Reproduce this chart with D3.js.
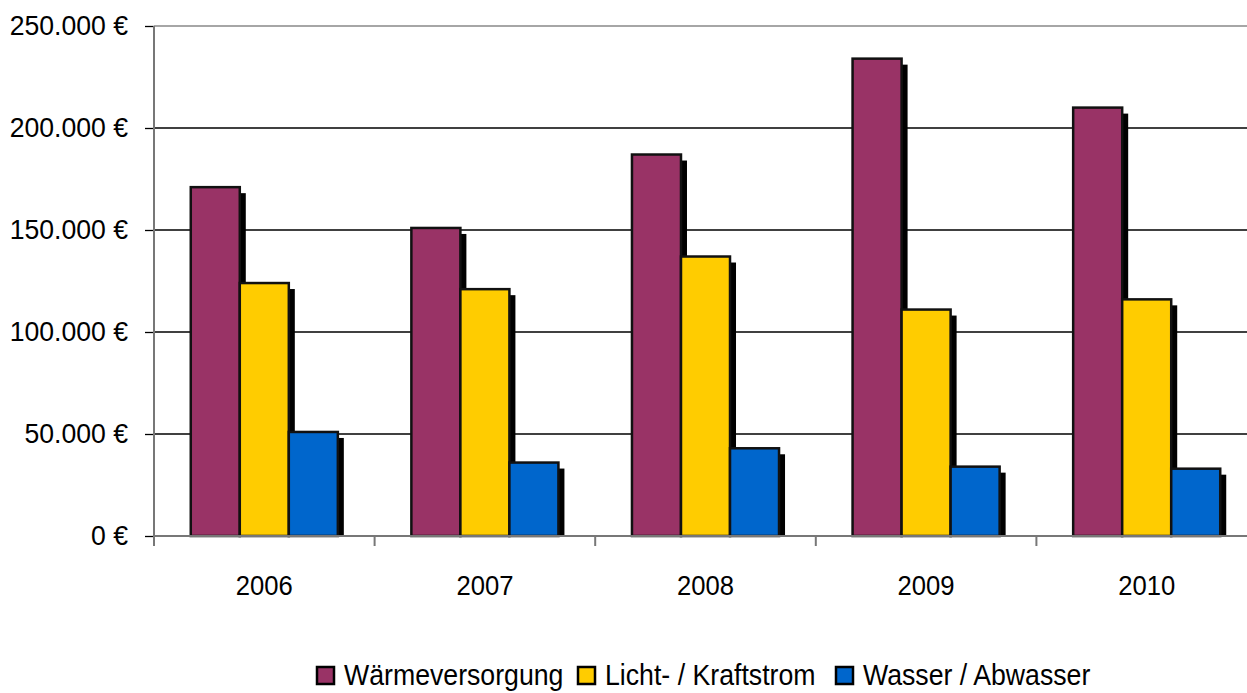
<!DOCTYPE html>
<html>
<head>
<meta charset="utf-8">
<script src="https://cdn.jsdelivr.net/npm/d3@7"></script>
<style>
  body { margin: 0; background: #fff; }
  text { font-family: "Liberation Sans", Arial, sans-serif; fill: #000; }
</style>
</head>
<body>
<div class="canvas"></div>
<script>
// data
const years = ['2006', '2007', '2008', '2009', '2010'];
const series = ['Wärmeversorgung', 'Licht- / Kraftstrom', 'Wasser / Abwasser'];
const waerme = [171000, 151000, 187000, 234000, 210000];
const strom = [124000, 121000, 137000, 111000, 116000];
const wasser = [51000, 36000, 43000, 34000, 33000];
const yTicks = [0, 50000, 100000, 150000, 200000, 250000];
const colors = ['#993366', '#ffcc00', '#0066cc'];

// dimensions
const width = 1247, height = 693;
const margin = {top: 26, right: -10, bottom: 157, left: 154};
const graphWidth = width - margin.left - margin.right;
const graphHeight = height - margin.top - margin.bottom;

// squeeze text a bit to mimic the narrow font of the original
const condense = (sel, k) => sel.each(function() {
  const w = this.getComputedTextLength();
  d3.select(this).attr('textLength', w * k).attr('lengthAdjust', 'spacingAndGlyphs');
});

const svg = d3.select('.canvas')
  .append('svg')
  .attr('width', width)
  .attr('height', height);

const graph = svg.append('g')
  .attr('transform', `translate(${margin.left},${margin.top})`);

const x0 = d3.scaleBand().domain(years).range([0, graphWidth]);
const x1 = d3.scaleBand().domain(series).range([x0.bandwidth() / 6, x0.bandwidth() * 5 / 6]);
const y = d3.scaleLinear().domain([0, 250000]).range([graphHeight, 0]);

// grid lines
graph.append('g')
  .selectAll('line')
  .data(yTicks.slice(1))
  .join('line')
    .attr('x1', 0)
    .attr('x2', graphWidth)
    .attr('y1', d => y(d))
    .attr('y2', d => y(d))
    .attr('stroke', d => d === 250000 ? '#888' : '#000')
    .attr('stroke-width', 1.3);

// y axis
const fmt = d => d3.format(',')(d).replace(/,/g, '.') + ' €';
const yAxis = graph.append('g')
  .call(d3.axisLeft(y).tickValues(yTicks).tickSize(9).tickFormat(fmt).tickPadding(17));
yAxis.select('.domain').remove();
yAxis.selectAll('.tick line').attr('stroke', '#000').attr('stroke-width', 1.3);
yAxis.selectAll('text')
  .attr('font-size', 28)
  .attr('font-family', '"Liberation Sans", Arial, sans-serif')
  .call(condense, 0.95);

// x axis
const xAxis = graph.append('g')
  .attr('transform', `translate(0,${graphHeight})`)
  .call(d3.axisBottom(x0).tickSize(0).tickPadding(39));
xAxis.select('.domain').remove();
xAxis.selectAll('text')
  .attr('font-size', 28)
  .attr('font-family', '"Liberation Sans", Arial, sans-serif')
  .call(condense, 0.915);

// category separator ticks
graph.append('g')
  .selectAll('line')
  .data(years)
  .join('line')
    .attr('x1', d => x0(d))
    .attr('x2', d => x0(d))
    .attr('y1', graphHeight)
    .attr('y2', graphHeight + 10)
    .attr('stroke', '#777')
    .attr('stroke-width', 2);

// bars
const rows = years.map((yr, i) => ({
  year: yr,
  values: [waerme[i], strom[i], wasser[i]].map((v, j) => ({key: series[j], value: v, color: colors[j]}))
}));

const groups = graph.selectAll('.year')
  .data(rows)
  .join('g')
    .attr('class', 'year')
    .attr('transform', d => `translate(${x0(d.year)},0)`);

// shadows first
groups.selectAll('.shadow')
  .data(d => d.values)
  .join('rect')
    .attr('class', 'shadow')
    .attr('x', d => x1(d.key) + 6)
    .attr('y', d => y(d.value) + 6)
    .attr('width', x1.bandwidth())
    .attr('height', d => graphHeight - y(d.value) - 6)
    .attr('fill', '#000');

groups.selectAll('.bar')
  .data(d => d.values)
  .join('rect')
    .attr('class', 'bar')
    .attr('x', d => x1(d.key))
    .attr('y', d => y(d.value))
    .attr('width', x1.bandwidth())
    .attr('height', d => graphHeight - y(d.value))
    .attr('fill', d => d.color)
    .attr('stroke', '#111')
    .attr('stroke-width', 2.5);

// axis lines on top
graph.append('line')
  .attr('x1', 0).attr('x2', graphWidth)
  .attr('y1', graphHeight).attr('y2', graphHeight)
  .attr('stroke', '#777').attr('stroke-width', 2);
graph.append('line')
  .attr('x1', 0).attr('x2', 0)
  .attr('y1', 0).attr('y2', graphHeight + 10)
  .attr('stroke', '#777').attr('stroke-width', 2);

// legend
const legendX = [317, 578, 836];
const legend = svg.append('g').attr('transform', 'translate(0,667)');
const items = legend.selectAll('g')
  .data(series)
  .join('g')
    .attr('transform', (d, i) => `translate(${legendX[i]},0)`);
items.append('rect')
  .attr('width', 17).attr('height', 17)
  .attr('fill', (d, i) => colors[i])
  .attr('stroke', '#000').attr('stroke-width', 2.5);
items.append('text')
  .attr('x', 27)
  .attr('y', 18)
  .attr('font-size', 29)
  .text(d => d)
  .call(condense, 0.92);
</script>
</body>
</html>
